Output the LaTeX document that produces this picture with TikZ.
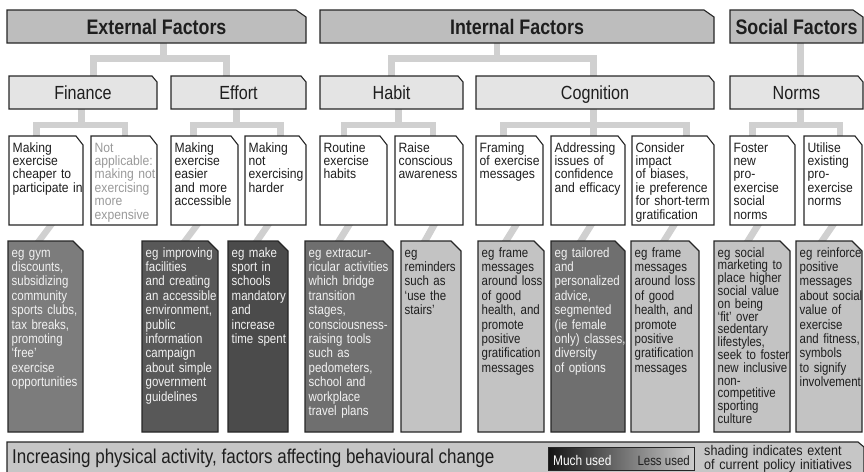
\documentclass[tikz,border=0pt]{standalone}
\usepackage{fontspec}
\setmainfont[FakeStretch=0.85]{Liberation Sans}
\newfontfamily\widefam[FakeStretch=0.9]{Liberation Sans}
\usetikzlibrary{backgrounds}

\definecolor{edge}{HTML}{262626}
\definecolor{ink}{HTML}{1E1E1E}
\definecolor{faint}{HTML}{9A9A9A}
\definecolor{hdrfill}{HTML}{BDBDBD}
\definecolor{subfill}{HTML}{E4E4E4}
\definecolor{conncol}{HTML}{D0D0D0}
\definecolor{barfill}{HTML}{C6C6C6}
\definecolor{lite}{HTML}{C3C3C3}
\definecolor{midA}{HTML}{7C7C7C}
\definecolor{midB}{HTML}{6F6F6F}
\definecolor{darkA}{HTML}{585858}
\definecolor{darkB}{HTML}{4B4B4B}
\definecolor{paper}{HTML}{F2F2F2}

% rectangle with the north-east corner cut off
\makeatletter
\def\cornerdx{6pt}\def\cornerdy{6pt}
\tikzset{corner dx/.store in=\cornerdx, corner dy/.store in=\cornerdy}
\pgfdeclareshape{cutcorner}{
  \inheritsavedanchors[from=rectangle]
  \inheritanchorborder[from=rectangle]
  \inheritanchor[from=rectangle]{center}
  \inheritanchor[from=rectangle]{north}
  \inheritanchor[from=rectangle]{south}
  \inheritanchor[from=rectangle]{east}
  \inheritanchor[from=rectangle]{west}
  \inheritanchor[from=rectangle]{north west}
  \inheritanchor[from=rectangle]{north east}
  \inheritanchor[from=rectangle]{south west}
  \inheritanchor[from=rectangle]{south east}
  \inheritanchor[from=rectangle]{base}
  \backgroundpath{%
    \southwest \pgf@xa=\pgf@x \pgf@ya=\pgf@y
    \northeast \pgf@xb=\pgf@x \pgf@yb=\pgf@y
    \pgfpathmoveto{\pgfqpoint{\pgf@xa}{\pgf@ya}}%
    \pgfpathlineto{\pgfqpoint{\pgf@xa}{\pgf@yb}}%
    \pgf@xc=\pgf@xb \advance\pgf@xc by -\cornerdx
    \pgfpathlineto{\pgfqpoint{\pgf@xc}{\pgf@yb}}%
    \pgf@yc=\pgf@yb \advance\pgf@yc by -\cornerdy
    \pgfpathlineto{\pgfqpoint{\pgf@xb}{\pgf@yc}}%
    \pgfpathlineto{\pgfqpoint{\pgf@xb}{\pgf@ya}}%
    \pgfpathclose
  }
}
\makeatother

\tikzset{
  card/.style={shape=cutcorner, draw=edge, line width=1.1pt, inner sep=0pt, outer sep=0pt, text=ink},
  hdr/.style={card, fill=hdrfill, corner dx=10pt, corner dy=7pt, minimum height=33pt,
    font=\bfseries\fontsize{21}{21}\selectfont, text height=15pt, text depth=0pt},
  sub/.style={card, fill=subfill, corner dx=5pt, corner dy=6pt, minimum height=33pt,
    font=\fontsize{19}{19}\selectfont, text height=13.6pt, text depth=0pt},
  lvthree/.style={card, fill=white, corner dx=7pt, corner dy=9pt},
  lvfour/.style={card, corner dx=10pt, corner dy=10pt},
  txtthree/.style={inner sep=0pt, text width=110pt, align=left, text=ink,
    font=\widefam\fontsize{13.5}{13.4}\selectfont},
  txtfour/.style={inner sep=0pt, text width=110pt, align=left, text=ink,
    font=\fontsize{13.5}{14.4}\selectfont},
  conn/.style={draw=conncol, line width=6.5pt, line cap=butt, line join=miter},
}

% box with its text set from the top-left corner
\newcommand\card[8]{%
  \node[#1, minimum width=#6pt, minimum height=#7pt, anchor=north west] (#3) at (#4,#5) {};
  \node[#2, anchor=base west] (#3-t) at ([shift={(3.5pt,-16pt)}]#3.north west) {#8};
}
% slanted link from the bottom of one box to the top of the one below
\newcommand\stub[4]{%
  \fill[conncol] ([xshift=#2pt-4pt]#1.south west) -- ([xshift=#2pt+4pt]#1.south west)
    -- ([xshift=#4pt+4pt]#3.north west) -- ([xshift=#4pt-4pt]#3.north west) -- cycle;}

\begin{document}
\begin{tikzpicture}[x=1pt,y=-1pt]
\useasboundingbox (0,0) rectangle (864,471);

% top level
\node[hdr, minimum width=299pt, anchor=north west] (ext) at (7,10) {External Factors};
\node[hdr, minimum width=394pt, anchor=north west] (int) at (320,10) {Internal Factors};
\node[hdr, minimum width=133pt, anchor=north west] (soc) at (730,10) {Social Factors};

% second level
\node[sub, minimum width=148pt, anchor=north west] (fin) at (9,76) {Finance};
\node[sub, minimum width=135pt, anchor=north west] (eff) at (171,76) {Effort};
\node[sub, minimum width=143pt, anchor=north west] (hab) at (320,76) {Habit};
\node[sub, minimum width=238pt, anchor=north west] (cog) at (476,76) {Cognition};
\node[sub, minimum width=133pt, anchor=north west] (nor) at (730,76) {Norms};

% third level
\card{lvthree}{txtthree}{r3a}{9}{136}{74}{89}{Making\\exercise\\cheaper to\\participate in}
\card{lvthree}{txtthree, text=faint}{r3b}{91}{136}{66}{89}{Not\\applicable:\\making not\\exercising\\more\\expensive}
\card{lvthree}{txtthree}{r3c}{171}{136}{67}{89}{Making\\exercise\\easier\\and more\\accessible}
\card{lvthree}{txtthree}{r3d}{245}{136}{61}{89}{Making\\not\\exercising\\harder}
\card{lvthree}{txtthree}{r3e}{320}{136}{67}{89}{Routine\\exercise\\habits}
\card{lvthree}{txtthree}{r3f}{395}{136}{68}{89}{Raise\\conscious\\awareness}
\card{lvthree}{txtthree}{r3g}{476}{136}{67}{89}{Framing\\of exercise\\messages}
\card{lvthree}{txtthree}{r3h}{551}{136}{74}{89}{Addressing\\issues of\\confidence\\and efficacy}
\card{lvthree}{txtthree}{r3i}{632}{136}{82}{89}{Consider\\impact\\of biases,\\ie preference\\for short-term\\gratification}
\card{lvthree}{txtthree}{r3j}{730}{136}{65}{89}{Foster\\new\\pro-\\exercise\\social\\norms}
\card{lvthree}{txtthree}{r3k}{804}{136}{58}{89}{Utilise\\existing\\pro-\\exercise\\norms}

% examples, shaded by how much they are used
\card{lvfour, fill=midA}{txtfour, text=paper}{r4a}{8}{241}{75}{191}{eg gym\\discounts,\\subsidizing\\community\\sports clubs,\\tax breaks,\\promoting\\‘free’\\exercise\\opportunities}
\card{lvfour, fill=darkA}{txtfour, text=paper}{r4c}{142}{241}{76}{191}{eg improving\\facilities\\and creating\\an accessible\\environment,\\public\\information\\campaign\\about simple\\government\\guidelines}
\card{lvfour, fill=darkB}{txtfour, text=paper}{r4d}{228}{241}{60}{191}{eg make\\sport in\\schools\\mandatory\\and\\increase\\time spent}
\card{lvfour, fill=midB}{txtfour, text=paper}{r4e}{305}{241}{88}{191}{eg extracur-\\ricular activities\\which bridge\\transition\\stages,\\consciousness-\\raising tools\\such as\\pedometers,\\school and\\workplace\\travel plans}
\card{lvfour, fill=lite}{txtfour}{r4f}{401}{241}{60}{191}{eg\\reminders\\such as\\‘use the\\stairs’}
\card{lvfour, fill=lite}{txtfour}{r4g}{478}{241}{66}{191}{eg frame\\messages\\around loss\\of good\\health, and\\promote\\positive\\gratification\\messages}
\card{lvfour, fill=midB}{txtfour, text=paper}{r4h}{551}{241}{74}{191}{eg tailored\\and\\personalized\\advice,\\segmented\\(ie female\\only) classes,\\diversity\\of options}
\card{lvfour, fill=lite}{txtfour}{r4i}{631}{241}{68}{191}{eg frame\\messages\\around loss\\of good\\health, and\\promote\\positive\\gratification\\messages}
\card{lvfour, fill=lite}{txtfour, font=\fontsize{13.5}{12.8}\selectfont}{r4j}{714}{241}{76}{191}{eg social\\marketing to\\place higher\\social value\\on being\\‘fit’ over\\sedentary\\lifestyles,\\seek to foster\\new inclusive\\non-\\competitive\\sporting\\culture}
\card{lvfour, fill=lite}{txtfour}{r4k}{796}{241}{66}{191}{eg reinforce\\positive\\messages\\about social\\value of\\exercise\\and fitness,\\symbols\\to signify\\involvement}

% caption bar and key
\node[card, fill=barfill, corner dx=6pt, corner dy=5pt, minimum width=857pt, minimum height=40pt, anchor=north west] (bar) at (7,442) {};
\node[inner sep=0pt, anchor=base west, text=ink, font=\fontsize{20}{20}\selectfont] (title) at (12,463) {Increasing physical activity, factors affecting behavioural change};
\node[draw=edge, line width=1pt, left color=black!92, right color=black!20, minimum width=146pt, minimum height=23pt, inner sep=0pt, anchor=north west] (key) at (548,447) {};
\node[inner sep=0pt, anchor=base west, text=white, font=\fontsize{14}{14}\selectfont] (much) at (553,465) {Much used};
\node[inner sep=0pt, anchor=base east, text=ink, font=\fontsize{13.5}{14}\selectfont] (less) at (690,465) {Less used};
\node[inner sep=0pt, anchor=base west, text width=170pt, align=left, text=ink, font=\widefam\fontsize{14}{12.8}\selectfont] (note) at (704,455) {shading indicates extent\\of current policy initiatives};

\begin{scope}[on background layer]
  % level one to level two
  \draw[conn] ([xshift=7pt]ext.south) -- ++(0,15.5);
  \draw[conn] ([xshift=10.5pt]fin.north) -- ++(0,-17.5) -| ([xshift=-12pt]eff.north);
  \draw[conn] ([xshift=-20pt]int.south) -- ++(0,15.5);
  \draw[conn] (hab.north) -- ++(0,-17.5) -| ([xshift=-1.5pt]cog.north);
  \draw[conn] ([xshift=4pt]soc.south) -- ([xshift=4pt]nor.north);
  % level two to level three
  \draw[conn] ([xshift=-1.5pt]fin.south) -- ++(0,16);
  \draw[conn] ([xshift=-9.5pt]r3a.north) -- ++(0,-11) -| ([xshift=1pt]r3b.north);
  \draw[conn] ([xshift=-2pt]eff.south) -- ++(0,16);
  \draw[conn] ([xshift=-11pt]r3c.north) -- ++(0,-11) -| ([xshift=5pt]r3d.north);
  \draw[conn] ([xshift=7pt]hab.south) -- ++(0,16);
  \draw[conn] ([xshift=-9.5pt]r3e.north) -- ++(0,-11) -| ([xshift=4pt]r3f.north);
  \draw[conn] ([xshift=-1.5pt]cog.south) -- ([xshift=5.5pt]r3h.north);
  \draw[conn] ([xshift=-6pt]r3g.north) -- ++(0,-11) -| ([xshift=13.5pt]r3i.north);
  \draw[conn] ([xshift=4pt]nor.south) -- ++(0,16);
  \draw[conn] ([xshift=-10pt]r3j.north) -- ++(0,-11) -| ([xshift=7pt]r3k.north);
  % level three to the examples
  \stub{r3a}{42}{r4a}{31}
  \stub{r3c}{26}{r4c}{43}
  \stub{r3d}{23}{r4d}{29}
  \stub{r3e}{29}{r4e}{34}
  \stub{r3f}{39}{r4f}{24}
  \stub{r3g}{40}{r4g}{28}
  \stub{r3h}{40}{r4h}{30}
  \stub{r3i}{42}{r4i}{33}
  \stub{r3j}{28}{r4j}{34}
  \stub{r3k}{29}{r4k}{26}
\end{scope}
\end{tikzpicture}
\end{document}
